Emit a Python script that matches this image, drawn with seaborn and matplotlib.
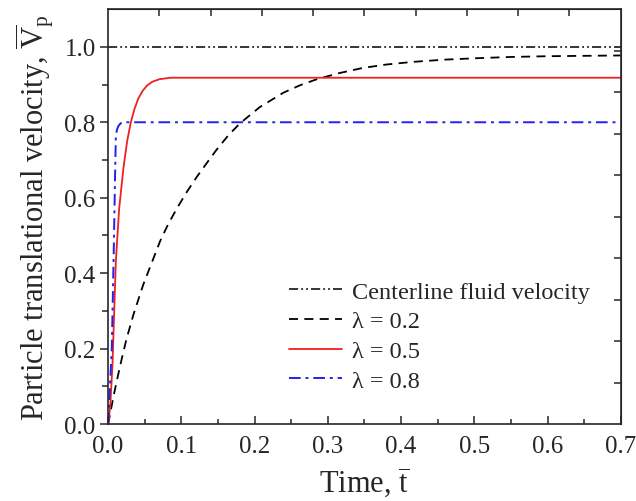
import numpy as np
import pandas as pd
import matplotlib
matplotlib.use("Agg")
import matplotlib.pyplot as plt
import seaborn as sns

# Values
t_center = [0.0, 0.7]
v_center = [1.0, 1.0]

t_02 = [0.0, 0.008, 0.0164, 0.025, 0.0345, 0.048, 0.06, 0.071, 0.082, 0.094, 0.107, 0.121,
        0.134, 0.148, 0.164, 0.18, 0.207, 0.239, 0.262, 0.285, 0.315, 0.348, 0.38, 0.416,
        0.46, 0.507, 0.55, 0.599, 0.65, 0.7]
v_02 = [0.0, 0.08, 0.155, 0.225, 0.29, 0.37, 0.43, 0.485, 0.53, 0.572, 0.614, 0.655,
        0.69, 0.727, 0.765, 0.797, 0.84, 0.878, 0.898, 0.914, 0.93, 0.944, 0.953, 0.96,
        0.966, 0.97, 0.973, 0.975, 0.976, 0.977]

t_05 = [0.0, 0.003, 0.006, 0.0105, 0.015, 0.021, 0.026, 0.031, 0.036, 0.041, 0.047, 0.053,
        0.06, 0.07, 0.085, 0.1, 0.7]
v_05 = [0.0, 0.05, 0.16, 0.43, 0.57, 0.68, 0.75, 0.80, 0.835, 0.862, 0.883, 0.897,
        0.907, 0.914, 0.918, 0.918, 0.918]

t_08 = [0.0, 0.003, 0.005, 0.0077, 0.0095, 0.0105, 0.012, 0.014, 0.017, 0.02, 0.7]
v_08 = [0.0, 0.12, 0.20, 0.46, 0.66, 0.76, 0.78, 0.79, 0.797, 0.80, 0.80]

labels = ["Centerline fluid velocity", "λ = 0.2", "λ = 0.5", "λ = 0.8"]

sns.set_style("ticks")
plt.rcParams["font.family"] = ["Liberation Serif", "DejaVu Serif"]
plt.rcParams["mathtext.fontset"] = "custom"
plt.rcParams["mathtext.rm"] = "Liberation Serif"
plt.rcParams["mathtext.it"] = "Liberation Serif:italic"

fig = plt.figure(figsize=(6.36, 5.02), dpi=100)
ax = fig.add_axes([0.170, 0.153, 0.806, 0.827])

sns.lineplot(x=t_center, y=v_center, ax=ax, color="black", lw=1.1,
             linestyle=(0, (6, 2, 1.2, 2, 1.2, 2)), label=labels[0])
sns.lineplot(x=t_02, y=v_02, ax=ax, color="black", lw=1.3,
             linestyle=(0, (5, 3.5)), label=labels[1])
sns.lineplot(x=t_05, y=v_05, ax=ax, color="#f02020", lw=1.3,
             linestyle="-", label=labels[2])
sns.lineplot(x=t_08, y=v_08, ax=ax, color="#2020f0", lw=1.4,
             linestyle=(0, (6, 2.5, 1.5, 2.5)), label=labels[3])

ax.set_xlim(0, 0.7)
ax.set_ylim(0, 1.1)
ax.set_xticks(np.arange(0, 0.71, 0.1))
ax.set_xticks(np.arange(0.05, 0.7, 0.1), minor=True)
ax.set_yticks(np.arange(0, 1.01, 0.2))
ax.set_yticks(np.arange(0.1, 1.1, 0.2), minor=True)
ax.xaxis.set_major_formatter(matplotlib.ticker.FormatStrFormatter("%.1f"))
ax.yaxis.set_major_formatter(matplotlib.ticker.FormatStrFormatter("%.1f"))

ax.tick_params(axis="x", which="major", direction="in", length=6, width=1.1,
               labelsize=18, pad=8)
ax.tick_params(axis="x", which="minor", direction="in", length=3.5, width=1.1)
ax.tick_params(axis="y", which="major", direction="out", length=6, width=1.1,
               labelsize=18, pad=3)
ax.tick_params(axis="y", which="minor", direction="out", length=4, width=1.1)
for s in ax.spines.values():
    s.set_linewidth(1.2)
    s.set_visible(True)

# top and right axes with their own tick spacing
top = ax.secondary_xaxis("top")
top.set_xticks(np.arange(0.07, 0.65, 0.07))
top.tick_params(direction="in", length=5, width=1.1, labeltop=False)
right = ax.secondary_yaxis("right")
right.set_yticks(np.arange(0.11, 1.05, 0.11))
right.tick_params(direction="in", length=5, width=1.1, labelright=False)

ax.set_xlabel(r"Time, $\overline{\mathrm{t}}$", fontsize=22, labelpad=5)
ax.set_ylabel(r"Particle translational velocity, $\overline{\mathrm{V}}_{\mathrm{p}}$",
              fontsize=22, labelpad=6)

leg = ax.legend(loc="lower left", bbox_to_anchor=(0.31, 0.025), frameon=False,
                fontsize=17.5, handlelength=2.2, handletextpad=0.4, labelspacing=0.32)

fig.savefig("out.png", dpi=100)
